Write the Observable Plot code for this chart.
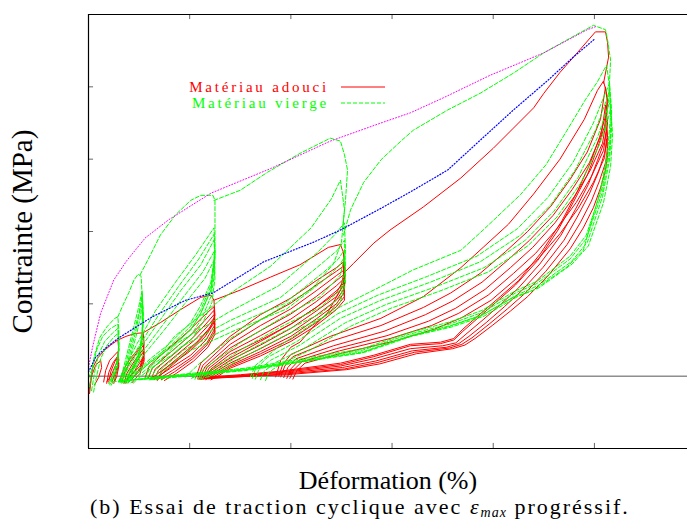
<!DOCTYPE html>
<html>
<head>
<meta charset="utf-8">
<script src="https://cdn.jsdelivr.net/npm/d3@7"></script>
<script src="https://cdn.jsdelivr.net/npm/@observablehq/plot@0.6"></script>
<style>
  body { margin: 0; background: #fff; }
  #wrap { position: relative; width: 687px; height: 520px; overflow: hidden; font-family: "Liberation Serif", serif; }
  #caption { position: absolute; left: 90px; top: 496px; font-size: 22px; letter-spacing: 2px; line-height: 1; white-space: nowrap; color: #000; }
  #caption sub { font-size: 14px; letter-spacing: 1px; vertical-align: -3px; line-height: 0; }
  #legend { position: absolute; left: 0; top: 0; }
</style>
</head>
<body>
<div id="wrap">
  <div id="chart"></div>
  <svg id="legend" width="687" height="130"></svg>
  <div id="caption">(b) Essai de traction cyclique avec <i>ε</i><sub><i>max</i></sub> progréssif.</div>
</div>
<script>
// ---------- axes ----------
const xDomain = [0, 5.92];
const yDomain = [-1, 5];
const xTicks = [1, 2, 3, 4, 5];
const yTicks = [0, 1, 2, 3, 4];
const xLabel = "Déformation (%)";
const yLabel = "Contrainte (MPa)";
const legendLabels = ["Matériau adouci", "Matériau vierge"];

// ---------- envelopes ----------
const magentaEnvelope = [[0,0.12],[0.04,0.40],[0.12,0.87],[0.25,1.33],[0.38,1.60],[0.56,1.91],[0.79,2.16],[1.21,2.53],[1.80,2.87],[2.39,3.25],[2.89,3.50],[3.18,3.64],[3.51,3.85],[3.97,4.16],[4.50,4.47],[4.93,4.79],[5.01,4.83]];
const blueCurve = [[0,0.06],[0.07,0.26],[0.17,0.39],[0.30,0.53],[0.63,0.82],[0.96,1.05],[1.23,1.15],[1.73,1.58],[2.22,1.85],[2.49,2.02],[2.89,2.32],[3.21,2.57],[3.55,2.85],[3.87,3.26],[4.20,3.68],[4.54,4.09],[4.79,4.41],[5.01,4.67]];

// ---------- red : softened material ----------
const redLevel1 = [
  [[0,-0.24],[0.04,0.11],[0.09,0.25],[0.16,0.36],[0.22,0.43],[0.29,0.50],[0.30,0.36],[0.28,0.19],[0.22,0],[0.18,-0.08]],
  [[0.15,-0.08],[0.17,0.08],[0.21,0.22],[0.29,0.34],[0.30,0.22],[0.27,0.06],[0.23,-0.08]],
  [[0.18,-0.10],[0.20,0.05],[0.24,0.18],[0.29,0.28],[0.30,0.17],[0.27,0.02],[0.25,-0.10]],
  [[0.20,-0.08],[0.22,0.06],[0.26,0.20],[0.29,0.26],[0.30,0.14],[0.28,0.0],[0.26,-0.07]],
  [[0.01,-0.24],[0.03,0.0],[0.07,0.15],[0.12,0.22],[0.13,0.12],[0.10,-0.02],[0.06,-0.12]]
];
const redLevel2 = [
  [[0.29,0.50],[0.37,0.55],[0.46,0.59],[0.54,0.60],[0.55,0.45],[0.54,0.26],[0.46,0.08],[0.36,-0.08]],
  [[0.33,-0.08],[0.36,0.06],[0.41,0.19],[0.48,0.33],[0.54,0.42],[0.55,0.29],[0.51,0.11],[0.42,-0.06]],
  [[0.35,-0.10],[0.38,0.04],[0.44,0.18],[0.50,0.30],[0.54,0.37],[0.55,0.24],[0.50,0.06],[0.40,-0.08]],
  [[0.31,-0.06],[0.35,0.10],[0.41,0.24],[0.49,0.37],[0.54,0.46],[0.55,0.32],[0.51,0.14],[0.40,-0.02]],
  [[0.37,-0.10],[0.40,0.03],[0.46,0.16],[0.51,0.27],[0.54,0.33],[0.55,0.21],[0.51,0.04],[0.43,-0.09]]
];
const redLevel3 = [
  [[0.54,0.60],[0.71,0.74],[0.91,0.92],[1.11,1.09],[1.21,1.12],[1.24,1.05],[1.25,0.84],[1.20,0.66],[1.10,0.50],[0.95,0.30],[0.80,0.12],[0.68,-0.02]],
  [[0.59,-0.03],[0.63,0.11],[0.81,0.33],[1.01,0.57],[1.15,0.77],[1.24,0.91],[1.25,0.71],[1.16,0.50],[1.01,0.29],[0.81,0.11],[0.66,-0.03]],
  [[0.62,-0.04],[0.66,0.10],[0.84,0.30],[1.03,0.53],[1.16,0.72],[1.24,0.85],[1.25,0.66],[1.17,0.46],[1.02,0.26],[0.83,0.08],[0.69,-0.04]],
  [[0.65,-0.05],[0.69,0.08],[0.86,0.28],[1.05,0.50],[1.17,0.68],[1.24,0.80],[1.25,0.62],[1.17,0.43],[1.03,0.24],[0.85,0.06],[0.72,-0.05]],
  [[0.56,-0.02],[0.60,0.14],[0.78,0.37],[0.98,0.61],[1.13,0.82],[1.24,0.96],[1.25,0.76],[1.15,0.54],[0.99,0.33],[0.79,0.14],[0.63,-0.02]],
  [[0.68,-0.06],[0.72,0.06],[0.89,0.26],[1.07,0.47],[1.18,0.64],[1.24,0.76],[1.25,0.58],[1.18,0.40],[1.04,0.21],[0.87,0.04],[0.75,-0.06]]
];
const redLevel4 = [
  [[1.24,1.05],[1.50,1.19],[1.80,1.37],[2.09,1.54],[2.37,1.78],[2.49,1.82],[2.52,1.71],[2.53,1.47],[2.49,1.19],[2.36,0.87],[2.22,0.68],[2.09,0.47],[2.00,0.40],[1.90,0.22],[1.85,-0.01]],
  [[1.06,-0.02],[1.11,0.18],[1.40,0.55],[1.70,0.85],[2.00,1.08],[2.25,1.32],[2.45,1.50],[2.52,1.58],[2.53,1.35],[2.45,1.15],[2.25,0.95],[2.00,0.72],[1.70,0.48],[1.40,0.25],[1.18,0.05],[1.11,-0.02]],
  [[1.08,-0.03],[1.13,0.15],[1.40,0.50],[1.70,0.78],[2.00,1.01],[2.25,1.26],[2.45,1.45],[2.52,1.52],[2.53,1.28],[2.45,1.10],[2.25,0.90],[2.00,0.66],[1.70,0.43],[1.40,0.22],[1.20,0.04],[1.13,-0.03]],
  [[1.10,-0.03],[1.15,0.13],[1.40,0.44],[1.70,0.70],[2.00,0.93],[2.25,1.18],[2.45,1.39],[2.52,1.46],[2.53,1.22],[2.45,1.05],[2.25,0.84],[2.00,0.60],[1.70,0.38],[1.40,0.18],[1.22,0.03],[1.15,-0.03]],
  [[1.12,-0.04],[1.17,0.12],[1.40,0.39],[1.70,0.63],[2.00,0.86],[2.25,1.10],[2.45,1.32],[2.52,1.40],[2.53,1.16],[2.45,1.00],[2.25,0.79],[2.00,0.55],[1.70,0.34],[1.40,0.15],[1.24,0.02],[1.17,-0.04]],
  [[1.14,-0.04],[1.19,0.11],[1.40,0.34],[1.70,0.56],[2.00,0.79],[2.25,1.03],[2.45,1.25],[2.52,1.34],[2.53,1.10],[2.45,0.96],[2.25,0.74],[2.00,0.51],[1.70,0.31],[1.40,0.13],[1.26,0.01],[1.19,-0.04]],
  [[1.16,-0.05],[1.21,0.10],[1.40,0.30],[1.70,0.50],[2.00,0.72],[2.25,0.95],[2.45,1.18],[2.52,1.28],[2.53,1.05],[2.45,0.92],[2.25,0.70],[2.00,0.48],[1.70,0.28],[1.40,0.11],[1.28,0.0],[1.21,-0.05]]
];
const redLevel5 = [
  [[2.52,1.42],[2.62,1.56],[2.82,1.84],[2.98,2.02],[3.31,2.34],[3.68,2.74],[4.00,3.15],[4.20,3.43],[4.40,3.71],[4.50,3.91],[4.66,4.20],[4.83,4.47],[5.01,4.76],[5.11,4.76],[5.13,4.61],[5.14,4.41],[5.09,4.05]],
  [[1.88,0],[1.92,0.16],[2.00,0.30],[2.39,0.55],[2.89,0.80],[3.31,1.10],[3.68,1.50],[3.90,1.78],[4.15,2.10],[4.40,2.52],[4.66,3.00],[4.90,3.55],[5.03,3.95],[5.09,4.08],[5.13,3.85],[5.11,3.60],[5.05,3.30],[4.96,2.95],[4.83,2.55],[4.68,2.15],[4.47,1.70],[4.25,1.32],[4.07,1.10],[3.87,0.86],[3.70,0.65],[3.61,0.52],[3.48,0.47],[3.18,0.44],[2.82,0.29],[2.49,0.18],[1.90,0.07],[1.50,0.02],[1.20,-0.01]],
  [[1.90,-0.01],[1.94,0.14],[2.02,0.27],[2.39,0.48],[2.89,0.70],[3.31,0.95],[3.58,1.15],[3.87,1.42],[4.12,1.72],[4.34,2.00],[4.57,2.35],[4.76,2.72],[4.93,3.10],[5.06,3.55],[5.11,4.00],[5.13,3.75],[5.10,3.45],[5.03,3.15],[4.93,2.78],[4.79,2.40],[4.64,2.02],[4.44,1.60],[4.22,1.26],[4.05,1.05],[3.87,0.83],[3.70,0.62],[3.61,0.50],[3.48,0.45],[3.18,0.42],[2.82,0.27],[2.49,0.16],[1.90,0.06],[1.50,0.01],[1.20,-0.02]],
  [[1.93,-0.02],[1.97,0.12],[2.05,0.24],[2.42,0.42],[2.92,0.62],[3.33,0.85],[3.60,1.04],[3.89,1.30],[4.14,1.60],[4.36,1.88],[4.59,2.22],[4.78,2.58],[4.95,2.95],[5.07,3.35],[5.11,3.75],[5.13,3.50],[5.10,3.25],[5.03,2.98],[4.94,2.65],[4.81,2.30],[4.67,1.95],[4.46,1.55],[4.25,1.22],[4.08,1.00],[3.90,0.78],[3.73,0.58],[3.63,0.46],[3.50,0.42],[3.18,0.38],[2.82,0.24],[2.49,0.14],[1.90,0.05],[1.45,0.0],[1.15,-0.03]],
  [[1.96,-0.03],[2.00,0.10],[2.08,0.22],[2.45,0.38],[2.95,0.56],[3.36,0.76],[3.63,0.94],[3.92,1.20],[4.17,1.50],[4.39,1.78],[4.61,2.12],[4.80,2.48],[4.96,2.85],[5.08,3.22],[5.12,3.55],[5.13,3.30],[5.10,3.08],[5.04,2.82],[4.95,2.52],[4.83,2.20],[4.70,1.88],[4.49,1.50],[4.28,1.18],[4.11,0.96],[3.93,0.74],[3.76,0.55],[3.66,0.45],[3.54,0.40],[3.20,0.35],[2.84,0.21],[2.51,0.12],[1.92,0.04],[1.40,-0.01],[1.12,-0.03]],
  [[1.99,-0.03],[2.03,0.09],[2.11,0.20],[2.48,0.35],[2.98,0.52],[3.39,0.70],[3.66,0.87],[3.95,1.12],[4.20,1.42],[4.42,1.70],[4.63,2.04],[4.82,2.40],[4.97,2.76],[5.09,3.12],[5.12,3.40],[5.13,3.15],[5.11,2.95],[5.05,2.70],[4.97,2.42],[4.86,2.12],[4.73,1.82],[4.52,1.45],[4.31,1.14],[4.14,0.93],[3.96,0.72],[3.79,0.53],[3.69,0.44],[3.57,0.39],[3.22,0.33],[2.86,0.19],[2.53,0.10],[1.94,0.03],[1.35,-0.02],[1.10,-0.04]],
  [[2.02,-0.04],[2.06,0.08],[2.14,0.18],[2.51,0.32],[3.01,0.48],[3.42,0.65],[3.69,0.81],[3.98,1.05],[4.23,1.35],[4.45,1.63],[4.66,1.97],[4.84,2.32],[4.99,2.68],[5.10,3.02],[5.12,3.28],[5.13,3.05],[5.11,2.85],[5.06,2.60],[4.99,2.33],[4.89,2.05],[4.76,1.76],[4.55,1.40],[4.34,1.10],[4.17,0.90],[3.99,0.70],[3.82,0.52],[3.72,0.43],[3.60,0.38],[3.24,0.31],[2.88,0.17],[2.55,0.09],[1.96,0.02],[1.30,-0.02],[1.08,-0.04]]
];

// ---------- green : virgin material ----------
const greenLevel1 = [
  [[0,-0.03],[0.03,0.08],[0.06,0.29],[0.11,0.53],[0.18,0.68],[0.26,0.80],[0.29,0.82],[0.30,0.64],[0.30,0.36],[0.28,0.15],[0.21,-0.10]],
  [[0.03,-0.20],[0.06,0.05],[0.10,0.30],[0.16,0.48],[0.24,0.60],[0.29,0.66],[0.30,0.45],[0.29,0.20],[0.25,0.0],[0.21,-0.12]],
  [[0.05,-0.22],[0.08,0.0],[0.12,0.24],[0.18,0.42],[0.25,0.54],[0.29,0.59],[0.30,0.40],[0.29,0.16],[0.26,-0.02],[0.22,-0.14]],
  [[0.01,-0.15],[0.04,0.10],[0.08,0.36],[0.14,0.55],[0.22,0.66],[0.29,0.72],[0.30,0.50],[0.29,0.25],[0.24,0.02],[0.20,-0.10]]
];
const greenLevel2 = [
  [[0.29,0.82],[0.34,0.98],[0.40,1.16],[0.45,1.33],[0.49,1.41],[0.52,1.38],[0.53,1.12],[0.53,0.64],[0.51,0.36],[0.43,0.11],[0.36,-0.08]],
  [[0.30,-0.08],[0.34,0.08],[0.39,0.36],[0.44,0.64],[0.49,0.92],[0.53,1.18],[0.54,0.90],[0.53,0.55],[0.49,0.28],[0.42,0.06],[0.36,-0.08]],
  [[0.31,-0.08],[0.35,0.07],[0.40,0.34],[0.45,0.61],[0.50,0.88],[0.53,1.13],[0.54,0.86],[0.53,0.52],[0.49,0.26],[0.43,0.05],[0.37,-0.08]],
  [[0.32,-0.09],[0.36,0.06],[0.41,0.32],[0.46,0.58],[0.50,0.84],[0.53,1.08],[0.54,0.82],[0.53,0.50],[0.49,0.24],[0.43,0.04],[0.38,-0.09]],
  [[0.33,-0.10],[0.37,0.05],[0.42,0.30],[0.47,0.55],[0.51,0.79],[0.53,1.00],[0.54,0.76],[0.53,0.46],[0.50,0.21],[0.44,0.02],[0.39,-0.10]]
];
const greenLevel3 = [
  [[0.51,1.40],[0.61,1.67],[0.71,1.95],[0.86,2.23],[1.01,2.43],[1.11,2.50],[1.23,2.50],[1.25,2.43],[1.25,1.98],[1.25,1.67],[1.21,1.19],[1.11,0.87],[1.01,0.64],[0.81,0.39],[0.61,0.19],[0.46,0.01],[0.40,-0.08]],
  [[0.30,-0.08],[0.35,0.10],[0.48,0.45],[0.66,0.90],[0.86,1.30],[1.06,1.68],[1.24,2.05],[1.25,1.72],[1.21,1.30],[1.11,0.98],[1.01,0.74],[0.81,0.46],[0.61,0.24],[0.46,0.05],[0.38,-0.07]],
  [[0.31,-0.08],[0.36,0.08],[0.50,0.42],[0.69,0.84],[0.89,1.24],[1.09,1.62],[1.24,1.96],[1.25,1.65],[1.21,1.25],[1.11,0.92],[1.01,0.69],[0.81,0.42],[0.61,0.21],[0.46,0.03],[0.39,-0.08]],
  [[0.32,-0.08],[0.37,0.06],[0.51,0.38],[0.71,0.78],[0.91,1.18],[1.11,1.54],[1.24,1.88],[1.25,1.58],[1.21,1.19],[1.11,0.87],[1.01,0.64],[0.81,0.39],[0.61,0.19],[0.46,0.01],[0.40,-0.08]],
  [[0.34,-0.09],[0.39,0.04],[0.53,0.33],[0.73,0.70],[0.93,1.08],[1.13,1.44],[1.24,1.72],[1.25,1.45],[1.21,1.10],[1.12,0.80],[1.02,0.58],[0.82,0.34],[0.62,0.15],[0.48,-0.01],[0.42,-0.09]],
  [[0.36,-0.10],[0.41,0.03],[0.55,0.30],[0.75,0.64],[0.95,1.00],[1.15,1.35],[1.24,1.60],[1.25,1.35],[1.22,1.02],[1.13,0.74],[1.03,0.53],[0.83,0.30],[0.63,0.12],[0.50,-0.02],[0.44,-0.10]]
];
const greenLevel4 = [
  [[1.24,2.43],[1.50,2.57],[1.77,2.82],[2.09,3.08],[2.39,3.29],[2.49,3.25],[2.53,3.06],[2.56,2.85],[2.54,2.43],[2.51,2.02]],
  [[0.56,-0.03],[0.61,0.12],[0.85,0.55],[1.30,1.05],[1.80,1.52],[2.20,2.05],[2.40,2.45],[2.49,2.71],[2.53,2.30],[2.50,1.85],[2.42,1.55],[2.20,1.20],[1.80,0.86],[1.40,0.52],[1.10,0.18],[0.95,-0.02]],
  [[0.58,-0.03],[0.63,0.10],[0.88,0.46],[1.38,0.88],[1.88,1.25],[2.27,1.72],[2.45,1.98],[2.53,2.12],[2.54,1.72],[2.49,1.40],[2.29,1.10],[1.90,0.80],[1.50,0.46],[1.18,0.14],[1.02,-0.03]],
  [[0.61,-0.04],[0.66,0.08],[0.91,0.40],[1.40,0.77],[1.90,1.09],[2.29,1.54],[2.46,1.74],[2.53,1.88],[2.54,1.47],[2.49,1.19],[2.29,0.95],[1.90,0.68],[1.50,0.36],[1.18,0.06],[1.01,-0.03]],
  [[0.64,-0.05],[0.69,0.06],[0.94,0.36],[1.43,0.70],[1.93,1.00],[2.31,1.42],[2.47,1.62],[2.53,1.75],[2.54,1.36],[2.49,1.10],[2.30,0.87],[1.92,0.61],[1.52,0.31],[1.20,0.03],[1.05,-0.04]],
  [[0.67,-0.05],[0.72,0.05],[0.97,0.33],[1.46,0.64],[1.96,0.93],[2.33,1.33],[2.48,1.53],[2.53,1.65],[2.54,1.28],[2.49,1.03],[2.31,0.81],[1.94,0.56],[1.54,0.27],[1.22,0.01],[1.08,-0.05]]
];
const greenLevel5 = [
  [[2.52,1.95],[2.59,2.30],[2.72,2.68],[2.89,2.99],[3.08,3.24],[3.21,3.40],[3.55,3.68],[3.87,3.91],[4.20,4.19],[4.50,4.47],[4.73,4.65],[4.99,4.85],[5.11,4.79],[5.13,4.65],[5.16,4.37],[5.14,3.82],[5.11,3.40]],
  [[1.60,-0.01],[1.65,0.15],[1.90,0.43],[2.20,0.71],[2.49,0.96],[2.89,1.24],[3.21,1.47],[3.68,1.74],[3.90,2.02],[4.27,2.51],[4.52,2.92],[4.73,3.40],[4.91,3.82],[5.03,4.07],[5.12,4.30],[5.15,4.00],[5.16,3.60],[5.13,3.10],[5.06,2.57],[4.89,1.74],[4.73,1.51],[4.40,1.19],[4.20,1.09],[3.87,0.83],[3.55,0.68],[3.15,0.54],[2.69,0.32],[2.09,0.20],[1.50,0.08],[0.91,0.01],[0.22,-0.08]],
  [[1.62,-0.03],[1.65,0.10],[1.77,0.26],[2.06,0.48],[2.46,0.86],[2.86,1.12],[3.35,1.38],[3.84,1.66],[4.24,2.04],[4.54,2.47],[4.79,2.96],[4.99,3.50],[5.11,3.92],[5.15,4.05],[5.17,3.65],[5.15,3.20],[5.08,2.62],[4.92,1.95],[4.76,1.66],[4.43,1.31],[4.22,1.18],[3.89,0.91],[3.57,0.75],[3.17,0.60],[2.71,0.38],[2.11,0.24],[1.55,0.11],[0.95,0.03],[0.30,-0.07]],
  [[1.65,-0.04],[1.68,0.08],[1.80,0.22],[2.09,0.43],[2.49,0.80],[2.89,1.05],[3.38,1.30],[3.87,1.58],[4.27,1.95],[4.57,2.37],[4.81,2.85],[5.01,3.40],[5.12,3.82],[5.15,3.95],[5.17,3.55],[5.15,3.10],[5.08,2.55],[4.92,1.90],[4.76,1.62],[4.43,1.28],[4.22,1.15],[3.89,0.88],[3.57,0.72],[3.17,0.58],[2.71,0.36],[2.11,0.22],[1.55,0.10],[0.95,0.02],[0.40,-0.06]],
  [[1.70,-0.05],[1.73,0.06],[1.85,0.19],[2.14,0.39],[2.54,0.74],[2.94,0.99],[3.42,1.23],[3.91,1.50],[4.31,1.87],[4.60,2.28],[4.84,2.75],[5.03,3.30],[5.13,3.70],[5.16,3.82],[5.17,3.45],[5.15,3.00],[5.08,2.48],[4.93,1.85],[4.77,1.58],[4.44,1.25],[4.23,1.12],[3.90,0.85],[3.58,0.70],[3.18,0.56],[2.72,0.34],[2.12,0.21],[1.56,0.09],[0.96,0.01],[0.50,-0.05]],
  [[1.75,-0.06],[1.78,0.05],[1.90,0.17],[2.19,0.36],[2.59,0.69],[2.99,0.94],[3.46,1.17],[3.95,1.44],[4.34,1.80],[4.63,2.20],[4.86,2.66],[5.05,3.20],[5.14,3.58],[5.16,3.70],[5.18,3.35],[5.16,2.90],[5.09,2.40],[4.94,1.80],[4.78,1.55],[4.45,1.22],[4.24,1.10],[3.91,0.83],[3.59,0.68],[3.19,0.55],[2.73,0.33],[2.13,0.20],[1.57,0.08],[0.97,0.0],[0.60,-0.05]]
];

// ---------- build tidy rows ----------
function rows(levels, tag) {
  const out = [];
  levels.forEach((level, li) => level.forEach((curve, ci) => curve.forEach(([x, y]) => out.push({x, y, id: `${tag}${li}-${ci}`}))));
  return out;
}
const redRows = rows([redLevel1, redLevel2, redLevel3, redLevel4, redLevel5], "r");
const greenRows = rows([greenLevel1, greenLevel2, greenLevel3, greenLevel4, greenLevel5], "g");
const pts = a => a.map(([x, y]) => ({x, y}));

const FONT = "Liberation Serif, serif";
// inward tick length, in data units of each scale (about 5 px)
const tickLenY = 0.07;
const tickLenX = 0.05;
const tickColor = "#666";

const chart = Plot.plot({
  width: 687,
  height: 500,
  marginLeft: 88,
  marginRight: 0,
  marginTop: 14,
  marginBottom: 52,
  x: {domain: xDomain, axis: null},
  y: {domain: yDomain, axis: null},
  style: {background: "white", fontFamily: FONT, overflow: "visible"},
  marks: [
    Plot.ruleY([0], {stroke: "#555", strokeWidth: 1}),
    Plot.line(redRows, {x: "x", y: "y", z: "id", stroke: "#ff0000", strokeWidth: 1}),
    Plot.line(greenRows, {x: "x", y: "y", z: "id", stroke: "#00ff00", strokeWidth: 1, strokeDasharray: "4,2"}),
    Plot.line(pts(blueCurve), {x: "x", y: "y", stroke: "#0000ff", strokeWidth: 1.2, strokeDasharray: "1,2"}),
    Plot.line(pts(magentaEnvelope), {x: "x", y: "y", stroke: "#ff00ff", strokeWidth: 1, strokeDasharray: "1,2"}),
    // inward ticks
    Plot.ruleX(xTicks, {x: d => d, y1: yDomain[0], y2: yDomain[0] + tickLenY, stroke: tickColor}),
    Plot.ruleX(xTicks, {x: d => d, y1: yDomain[1] - tickLenY, y2: yDomain[1], stroke: tickColor}),
    Plot.ruleY(yTicks, {y: d => d, x1: xDomain[0], x2: xDomain[0] + tickLenX, stroke: tickColor}),
    // frame (left, top, bottom)
    Plot.ruleY(yDomain, {stroke: "#000", strokeWidth: 1.2}),
    Plot.ruleX([xDomain[0]], {stroke: "#000", strokeWidth: 1.2}),
    Plot.text([xLabel], {frameAnchor: "bottom", dy: 32, lineAnchor: "middle", textAnchor: "middle", text: d => d, fontSize: 26, fill: "#000", style: "letter-spacing:1px"}),
    Plot.text([yLabel], {frameAnchor: "left", dx: -66, rotate: -90, textAnchor: "middle", lineAnchor: "middle", text: d => d, fontSize: 29, fill: "#000"})
  ]
});
document.getElementById("chart").appendChild(chart);

// ---------- legend overlay ----------
const leg = d3.select("#legend");
const legendStyles = [
  {color: "#ff0000", dash: null, y: 87},
  {color: "#00ff00", dash: "4,2", y: 103}
];
legendLabels.forEach((t, i) => {
  const s = legendStyles[i];
  leg.append("text").attr("x", 329).attr("y", s.y + 5).attr("text-anchor", "end")
    .attr("font-family", FONT).attr("font-size", 15).attr("letter-spacing", "2.8px")
    .attr("fill", s.color).text(t);
  leg.append("line").attr("x1", 341).attr("x2", 385).attr("y1", s.y).attr("y2", s.y)
    .attr("stroke", s.color).attr("stroke-width", 1).attr("stroke-dasharray", s.dash);
});
</script>
</body>
</html>
